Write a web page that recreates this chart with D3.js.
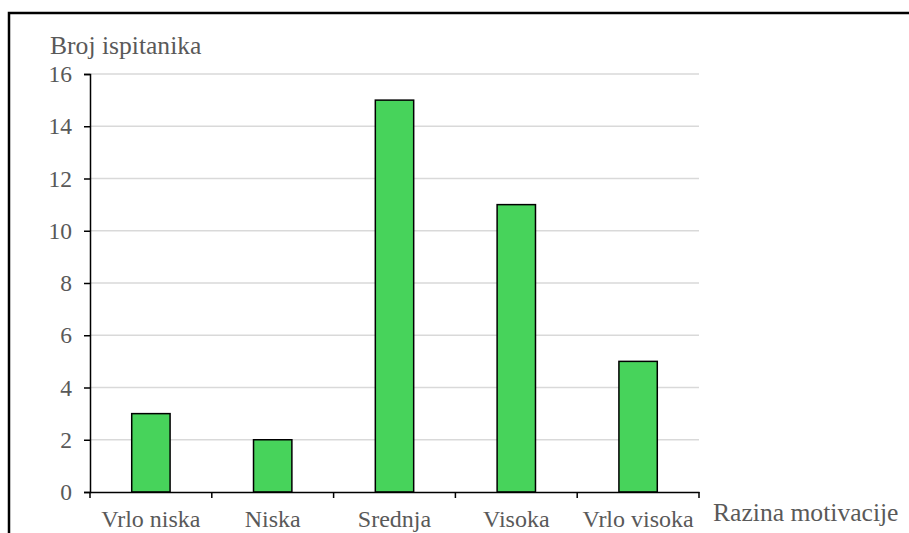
<!DOCTYPE html>
<html><head><meta charset="utf-8">
<script src="https://cdn.jsdelivr.net/npm/d3@7"></script>
<style>html,body{margin:0;padding:0;background:#fff;overflow:hidden}</style>
</head><body>
<svg id="chart" width="909" height="533"></svg>
<script>
const categories = ["Vrlo niska", "Niska", "Srednja", "Visoka", "Vrlo visoka"];
const values = [3, 2, 15, 11, 5];
const yTicks = [0, 2, 4, 6, 8, 10, 12, 14, 16];
const yTitle = "Broj ispitanika";
const xTitle = "Razina motivacije";

const svg = d3.select("#chart");
const W = 909, H = 533;
const m = {left: 90, right: 210, top: 74, bottom: 41};
const x = d3.scaleBand().domain(categories).range([m.left, W - m.right]).paddingInner(0).paddingOuter(0);
const y = d3.scaleLinear().domain([0, 16]).range([H - m.bottom, m.top]);
const textColor = "#595959";
const font = "Liberation Serif";

// frame
svg.append("rect").attr("x", 9).attr("y", 13).attr("width", 1000).attr("height", 1000)
  .attr("fill", "none").attr("stroke", "#000").attr("stroke-width", 2.5);

// gridlines
svg.append("g").selectAll("line").data(yTicks.filter(d => d > 0)).join("line")
  .attr("x1", m.left).attr("x2", W - m.right)
  .attr("y1", d => y(d)).attr("y2", d => y(d))
  .attr("stroke", "#d9d9d9").attr("stroke-width", 1.5);

// bars
const bw = x.bandwidth() * 0.315;
svg.append("g").selectAll("rect").data(categories).join("rect")
  .attr("x", d => x(d) + (x.bandwidth() - bw) / 2)
  .attr("y", (d, i) => y(values[i]))
  .attr("width", bw)
  .attr("height", (d, i) => y(0) - y(values[i]))
  .attr("fill", "#47d35b").attr("stroke", "#000").attr("stroke-width", 1.5);

// y axis
const yAxis = svg.append("g").attr("transform", `translate(${m.left},0)`)
  .call(d3.axisLeft(y).tickValues(yTicks).tickSize(6).tickPadding(12));
yAxis.attr("font-family", font).attr("font-size", 23.5);
yAxis.select(".domain").attr("stroke", "#000").attr("stroke-width", 1.5);
yAxis.selectAll(".tick line").attr("stroke", "#000").attr("stroke-width", 1.5);
yAxis.selectAll(".tick text").attr("fill", textColor);

// x axis (labels)
const xAxis = svg.append("g").attr("transform", `translate(0,${y(0)})`)
  .call(d3.axisBottom(x).tickSize(0));
xAxis.attr("font-family", font).attr("font-size", 24);
xAxis.select(".domain").attr("stroke", "#000").attr("stroke-width", 1.5);
xAxis.selectAll(".tick text").attr("fill", textColor).attr("y", 35).attr("dy", 0);
// boundary ticks
const bounds = categories.map(c => x(c)).concat([x.range()[1]]);
svg.append("g").selectAll("line").data(bounds).join("line")
  .attr("x1", d => d).attr("x2", d => d)
  .attr("y1", y(0)).attr("y2", y(0) + 6)
  .attr("stroke", "#000").attr("stroke-width", 1.5);

// titles
svg.append("text").attr("x", 50).attr("y", 54).text(yTitle)
  .attr("fill", textColor).attr("font-family", font).attr("font-size", 25.6);
svg.append("text").attr("x", 713).attr("y", 521).text(xTitle)
  .attr("fill", textColor).attr("font-family", font).attr("font-size", 25.6);
</script>
</body></html>
